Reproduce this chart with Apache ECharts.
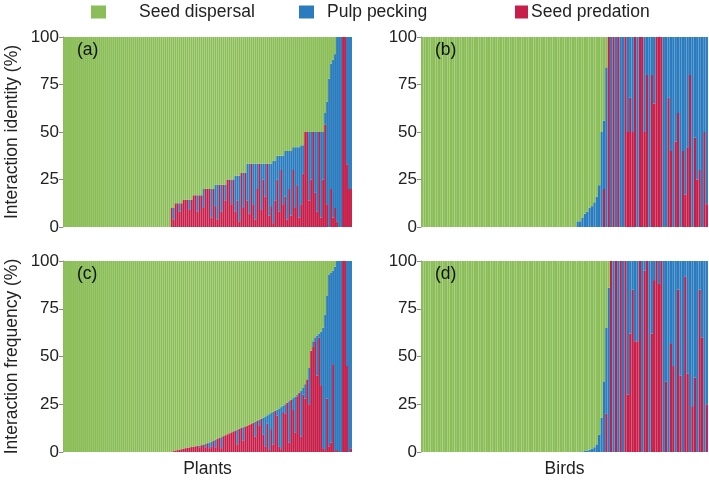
<!DOCTYPE html>
<html><head><meta charset="utf-8">
<script src="https://cdn.jsdelivr.net/npm/echarts@6/dist/echarts.min.js"></script>
<style>html,body{margin:0;padding:0;background:#fff}#c{width:709px;height:480px}</style>
</head><body><div id="c"></div>
<script>
const seriesNames = ['Seed dispersal', 'Pulp pecking', 'Seed predation'];
const panelLabels = ['(a)', '(b)', '(c)', '(d)'];
const yTitles = ['Interaction identity (%)', 'Interaction frequency (%)'];
const xTitles = ['Plants', 'Birds'];

// Plants, interaction identity: % non-dispersal (pulp pecking + seed predation) and % seed predation per plant
const plantsIdentityOther = [
  0,0,0,0,0,0,0,0,0,0, 0,0,0,0,0,0,0,0,0,0, 0,0,0,0,0,0,0,0,0,0, 0,0,0,0,0,0,0,0,0,0, 0,0,0,0,0,0,0,0,0,0, 0,0,0,0,
  10,10, 12.5,12.5,12.5,12.5, 14.3,14.3,14.3,14.3,14.3, 16.7,16.7,16.7,16.7,16.7,
  20,20,20,20,20,20, 22.2,22.2,22.2,22.2,22.2,22.2, 25,25,25,25, 27,27,27, 28.6,28.6,28.6,
  33.3,33.3,33.3,33.3,33.3,33.3,33.3,33.3,33.3,33.3,33.3,33.3,33.3, 35,35, 37.5,37.5,37.5,37.5,
  40,40,40,40, 42,42,42,42, 43,43, 50,50,50,50,50,50,50,50,50,50,
  60,66,78,86,88,91, 100,100,100,100,100,100,100,100
];
const plantsIdentityPredation = [
  0,0,0,0,0,0,0,0,0,0, 0,0,0,0,0,0,0,0,0,0, 0,0,0,0,0,0,0,0,0,0, 0,0,0,0,0,0,0,0,0,0, 0,0,0,0,0,0,0,0,0,0, 0,0,0,0,
  10,4,12.5,12.5,8,12.5,14.3,14.3,14.3,9,
  14.3,16.7,16.7,8,16.7,16.7,10,20,20,20,
  5,20,11,4,22.2,8,22.2,14,25,25,
  12,25,8,14,3,28.6,10,28.6,14,7,
  33.3,12,4,20,33.3,9,25,16,33.3,6,
  11,2,14,25,8,30,12,16,4,20,
  6,30,10,22,5,12,28,50,50,14,
  25,50,18,8,50,5,25,54,12,0,
  20,5,10,3,0,0,100,100,33,20,
  20
];
// Plants, interaction frequency
const plantsFrequencyOther = [
  0,0,0,0,0,0,0,0,0,0, 0,0,0,0,0,0,0,0,0,0, 0,0,0,0,0,0,0,0,0,0, 0,0,0,0,0,0,0,0,0,0, 0,0,0,0,0,0,0,0,0,0, 0,0,0,0,0,
  0.5,0.8,1.0,1.2,1.5,1.8,2.0,2.2,2.4,2.6,
  2.8,3.0,3.2,3.4,3.6,3.8,4.2,4.6,5.0,5.5,
  6.0,6.5,7.0,7.4,7.8,8.3,8.8,9.3,9.8,10.3,
  10.8,11.3,11.8,12.2,12.6,13.0,13.4,13.8,14.3,14.8,
  15.3,15.8,16.3,16.8,17.4,18.0,18.6,19.2,19.8,20.4,
  21.0,21.6,22.2,22.8,23.5,24.2,25.0,25.8,26.6,27.4,
  28.2,29.0,30.0,31.0,32.0,33.5,35.5,38,44,53,
  58,60,61,62,63,65,72,82,93,94,
  95,97,100,100,100,100,100,100,100,100
];
const plantsFrequencyPredation = [
  0,0,0,0,0,0,0,0,0,0, 0,0,0,0,0,0,0,0,0,0, 0,0,0,0,0,0,0,0,0,0, 0,0,0,0,0,0,0,0,0,0, 0,0,0,0,0,0,0,0,0,0, 0,0,0,0,0,
  0.5,0.8,1.0,1.2,1.5,1.8,2.0,2.2,2.4,2.6,
  2.8,3.0,3.2,2.5,3.6,3.8,2.5,4.6,2.0,3.0,
  6.0,2.5,7.0,7.4,2.0,8.3,8.8,9.3,9.8,10.3,
  10.8,11.3,4.0,12.2,12.6,6.0,13.4,13.8,14.3,14.8,
  15.3,8.0,16.3,14.0,17.4,9.0,3.0,15.0,1.0,12.0,
  4.0,21.6,19.0,3.0,1.5,21.0,20.0,25.8,5.0,27.4,
  22.0,10.0,29.0,31.0,8.0,30.0,28.0,38,25,53,
  55,58,40,60,35,2,1,28,3,5,
  46,0.5,1,0,0,100,100,45,0,2
];
// Birds, interaction identity
const birdsIdentityOther = [
  0,0,0,0,0,0,0,0,0,0, 0,0,0,0,0,0,0,0,0,0, 0,0,0,0,0,0,0,0,0,0, 0,0,0,0,0,0,0,0,0,0, 0,0,0,0,0,0,0,0,0,0, 0,0,0,0,0,0,0,0,0,0, 0,0,0,0,0,
  3,3,5,7,8,10,11,13,16,22,
  50,56,84,
  100,100,100,100,100,100,100,100,100,100, 100,100,100,100,100,100,100,100,100,100,
  100,100,100,100,100,100,100,100,100,100, 100,100,100,100,100,100,100,100,100,100, 100,100
];
const birdsIdentityPredation = [
  0,0,0,0,0,0,0,0,0,0, 0,0,0,0,0,0,0,0,0,0, 0,0,0,0,0,0,0,0,0,0, 0,0,0,0,0,0,0,0,0,0, 0,0,0,0,0,0,0,0,0,0, 0,0,0,0,0,0,0,0,0,0, 0,0,0,0,0,
  0,0,0,0,0,0,0,0,0,0,
  0,20,0,
  100,0,100,0,100,0,0,100,50,68,
  50,100,0,100,100,50,80,0,80,65,
  100,100,100,0,0,68,40,0,45,60,
  0,40,17,42,80,0,47,25,30,0,
  50,12
];
// Birds, interaction frequency
const birdsFrequencyOther = [
  0,0,0,0,0,0,0,0,0,0, 0,0,0,0,0,0,0,0,0,0, 0,0,0,0,0,0,0,0,0,0, 0,0,0,0,0,0,0,0,0,0, 0,0,0,0,0,0,0,0,0,0, 0,0,0,0,0,0,0,0,0,0, 0,0,0,0,0,0,0,
  0.3,0.5,0.8,1.2,1.8,2.5,4,9,18,37,
  65,86,
  100,100,100,100,100,100,100,100,100,100, 100,100,100,100,100,100,100,100,100,100,
  100,100,100,100,100,100,100,100,100,100, 100,100,100,100,100,100,100,100,100,100, 100
];
const birdsFrequencyPredation = [
  0,0,0,0,0,0,0,0,0,0, 0,0,0,0,0,0,0,0,0,0, 0,0,0,0,0,0,0,0,0,0, 0,0,0,0,0,0,0,0,0,0, 0,0,0,0,0,0,0,0,0,0, 0,0,0,0,0,0,0,0,0,0, 0,0,0,0,0,0,0,
  0,0,0,0,0,0,0,0,0,0,
  20,0,
  100,0,100,0,100,0,100,30,62,85,
  58,58,100,0,95,100,0,62,90,100,
  88,100,0,37,0,57,45,0,85,40,
  0,92,41,0,24,39,0,85,60,0,
  25
];

const colors = {green: '#8bbe58', blue: '#2b7cbf', red: '#c71f4a'};
const FONT = 'Liberation Sans, Arial, Helvetica, sans-serif';

const panels = [
  {other: plantsIdentityOther, pred: plantsIdentityPredation, grid: {left: 63, top: 37, width: 289, height: 190}},
  {other: birdsIdentityOther, pred: birdsIdentityPredation, grid: {left: 421, top: 37, width: 287, height: 190}},
  {other: plantsFrequencyOther, pred: plantsFrequencyPredation, grid: {left: 63, top: 261, width: 289, height: 191}},
  {other: birdsFrequencyOther, pred: birdsFrequencyPredation, grid: {left: 421, top: 261, width: 287, height: 191}}
];

const grids = [], xAxes = [], yAxes = [], series = [], graphics = [];
panels.forEach((p, k) => {
  grids.push(Object.assign({containLabel: false}, p.grid));
  const cats = p.other.map((_, i) => String(i + 1));
  xAxes.push({
    gridIndex: k, type: 'category', data: cats,
    axisLine: {show: false}, axisTick: {show: false}, axisLabel: {show: false}, splitLine: {show: false},
    name: k >= 2 ? xTitles[k - 2] : '', nameLocation: 'middle', nameGap: 8,
    nameTextStyle: {fontSize: 17.5, color: '#222', fontFamily: FONT, verticalAlign: 'top'}
  });
  yAxes.push({
    gridIndex: k, type: 'value', min: 0, max: 100, interval: 25,
    axisLine: {show: true, lineStyle: {color: '#8a8a8a', width: 1}},
    axisTick: {show: true, length: 4, lineStyle: {color: '#8a8a8a'}},
    axisLabel: {fontSize: 17, color: '#222', margin: 4, fontFamily: FONT},
    splitLine: {show: false},
    name: k % 2 === 0 ? yTitles[k / 2] : '', nameLocation: 'middle', nameGap: 42,
    nameTextStyle: {fontSize: 17.5, color: '#222', fontFamily: FONT}
  });
  const red = p.pred.slice();
  const blue = p.other.map((o, i) => +(o - p.pred[i]).toFixed(2));
  const green = p.other.map(o => +(100 - o).toFixed(2));
  const common = {type: 'bar', xAxisIndex: k, yAxisIndex: k, stack: 'p' + k, barCategoryGap: '3%', animation: false, silent: true};
  series.push(Object.assign({name: seriesNames[2], data: red, itemStyle: {color: colors.red}}, common));
  series.push(Object.assign({name: seriesNames[1], data: blue, itemStyle: {color: colors.blue}}, common));
  series.push(Object.assign({name: seriesNames[0], data: green, itemStyle: {color: colors.green}}, common));
  graphics.push({
    type: 'text', left: p.grid.left + 14, top: p.grid.top + 4, z: 100,
    style: {text: panelLabels[k], fontSize: 17.5, fill: '#111', fontFamily: FONT}
  });
});

const legendBase = {orient: 'horizontal', top: 3, padding: 0, icon: 'rect', itemHeight: 13, selectedMode: false};
const option = {
  backgroundColor: '#fff',
  animation: false,
  color: [colors.green, colors.blue, colors.red],
  legend: [
    Object.assign({}, legendBase, {data: [seriesNames[0]], left: 91, itemWidth: 15,
      textStyle: {fontSize: 17.5, color: '#222', fontFamily: FONT, padding: [0, 0, 0, 28]}}),
    Object.assign({}, legendBase, {data: [seriesNames[1]], left: 299, itemWidth: 15,
      textStyle: {fontSize: 17.5, color: '#222', fontFamily: FONT, padding: [0, 0, 0, 8]}}),
    Object.assign({}, legendBase, {data: [seriesNames[2]], left: 515, itemWidth: 13,
      textStyle: {fontSize: 17.5, color: '#222', fontFamily: FONT, padding: [0, 0, 0, -2]}})
  ],
  grid: grids, xAxis: xAxes, yAxis: yAxes, series: series,
  graphic: graphics
};
const chart = echarts.init(document.getElementById('c'), null, {renderer: 'canvas'});
chart.setOption(option);
</script>
</body></html>
